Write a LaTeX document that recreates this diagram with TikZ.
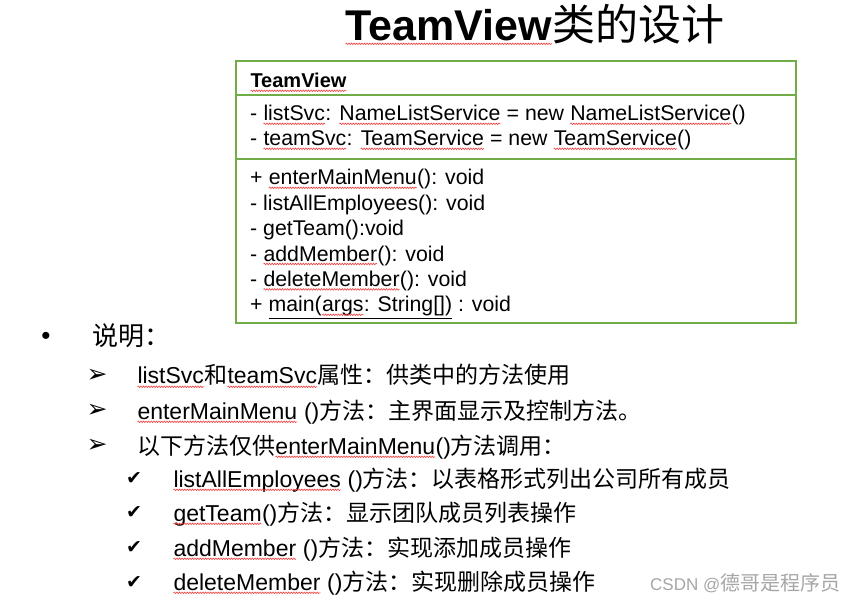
\documentclass[tikz,border=0pt]{standalone}
\usepackage{fontspec}
\setmainfont{Liberation Sans}
\newfontfamily\cjk{Noto Sans CJK SC}
\newfontfamily\symb{DejaVu Sans}
\usepackage{xcolor}
\usepackage{tikz}
\usetikzlibrary{positioning}
\usetikzlibrary{decorations.pathmorphing}
\definecolor{umlgreen}{HTML}{70AD47}
\definecolor{spellred}{HTML}{F04040}
\newcommand{\zh}[1]{{\cjk #1}}
\newcommand{\spell}[1]{\tikz[baseline=(w.base),x=1pt,y=1pt]{\node[inner sep=0pt,outer sep=0pt] (w) {#1};
  \draw[spellred,line width=0.6pt,decorate,decoration={snake,amplitude=0.8pt,segment length=2.6pt}] ([yshift=-2.8pt]w.base west) -- ([yshift=-2.8pt]w.base east);}}
\newcommand{\boxfont}{\fontsize{21.3}{25.4}\selectfont}
\newcommand{\listfont}{\fontsize{23}{28}\selectfont}

\begin{document}
\begin{tikzpicture}[x=1pt,y=-1pt,
  umlline/.style={draw=umlgreen,line width=2pt},
  member/.style={anchor=base west,inner sep=0pt,font=\boxfont},
  item/.style={anchor=base west,inner sep=0pt,font=\listfont},
  arrowbullet/.style={inner sep=0pt,font=\symb\fontsize{25}{25}\selectfont},
  tickbullet/.style={inner sep=0pt,font=\symb\fontsize{19}{19}\selectfont}]
\useasboundingbox[fill=white] (0,0) rectangle (855,604);

\node[anchor=base west,inner sep=0pt,font=\fontsize{43}{43}\selectfont\bfseries] (title) at (345,41) {\spell{TeamView}\zh{\mdseries 类的设计}};

% class box
\coordinate (nw) at (236,61);
\coordinate (se) at (796,323);
\draw[umlline] (nw) rectangle (se);
\draw[umlline] (236,95) -- (796,95);
\draw[umlline] (236,159) -- (796,159);

\node[member,font=\fontsize{20}{20}\selectfont\bfseries] (hdr) at (250,88) {\spell{TeamView}};
\node[member] (a1) at (250,121) {- \spell{listSvc}: \spell{NameListService} = new \spell{NameListService}()};
\node[member] (a2) at (250,146) {- \spell{teamSvc}: \spell{TeamService} = new \spell{TeamService}()};
\node[member] (m1) at (250,185) {+ \spell{enterMainMenu}(): void};
\node[member] (m2) at (250,210.4) {- listAllEmployees(): void};
\node[member] (m3) at (250,235.8) {- getTeam():void};
\node[member] (m4) at (250,261.2) {- \spell{addMember}(): void};
\node[member] (m5) at (250,286.6) {- \spell{deleteMember}(): void};
\node[member] (m6) at (250,312) {+ \underline{main(\spell{args}: String[])} : void};

% notes
\node[inner sep=0pt,font=\fontsize{26}{26}\selectfont] (dot) at (46,338) {•};
\node[anchor=base west,inner sep=0pt,font=\fontsize{26}{26}\selectfont] (note) at (92,346) {\zh{说明：}};

\node[arrowbullet] (r1) at (97,376) {➢};
\node[arrowbullet] (r2) at (97,411) {➢};
\node[arrowbullet] (r3) at (97,446) {➢};
\node[item] (t1) at (137,384) {\spell{listSvc}\zh{和}\spell{teamSvc}\zh{属性：供类中的方法使用}};
\node[item] (t2) at (137,419) {\spell{enterMainMenu} ()\zh{方法：主界面显示及控制方法。}};
\node[item] (t3) at (137,454) {\zh{以下方法仅供}\spell{enterMainMenu}()\zh{方法调用：}};

\node[tickbullet] (c1) at (134,479) {✔};
\node[tickbullet] (c2) at (134,513) {✔};
\node[tickbullet] (c3) at (134,548) {✔};
\node[tickbullet] (c4) at (134,583) {✔};
\node[item] (s1) at (173,487) {\spell{listAllEmployees} ()\zh{方法：以表格形式列出公司所有成员}};
\node[item] (s2) at (173,521) {\spell{getTeam}()\zh{方法：显示团队成员列表操作}};
\node[item] (s3) at (173,556) {\spell{addMember} ()\zh{方法：实现添加成员操作}};
\node[item] (s4) at (173,590) {\spell{deleteMember} ()\zh{方法：实现删除成员操作}};

\node[anchor=base west,inner sep=0pt,text=black!35,font=\fontsize{17}{17}\selectfont] (wm) at (650,590) {CSDN @\zh{\fontsize{20}{20}\selectfont 德哥是程序员}};
\end{tikzpicture}
\end{document}
